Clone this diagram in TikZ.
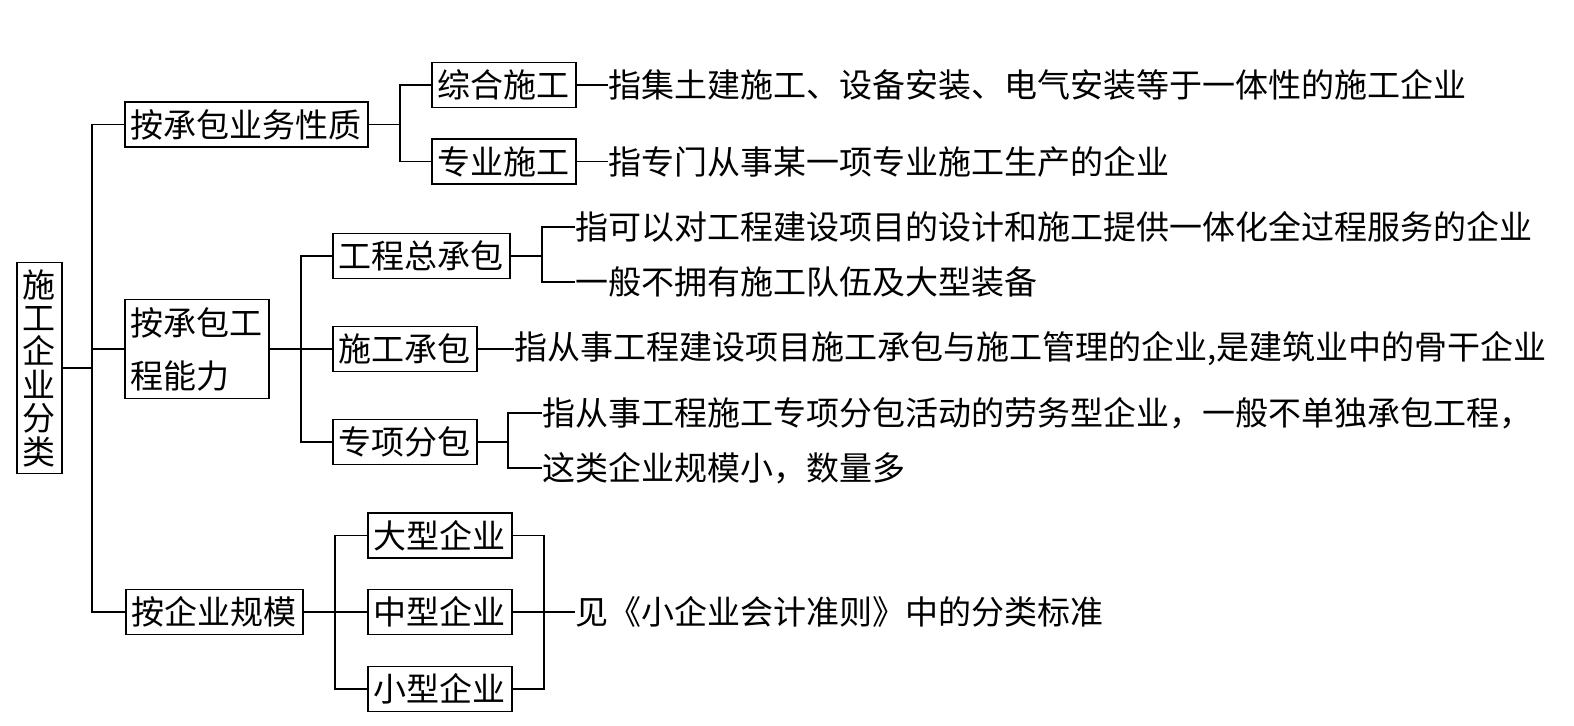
\documentclass[tikz,border=0pt]{standalone}
\usepackage{fontspec}
\setmainfont{Noto Sans CJK SC}
\usetikzlibrary{positioning}

\begin{document}
\begin{tikzpicture}[
    x=0.5pt, y=-0.5pt,
    node distance=15.5pt,
    box/.style={draw, line width=0.9pt, anchor=west, inner xsep=3pt, inner ysep=0pt, minimum height=22.5pt, font=\fontsize{16.5}{16.7}\selectfont},
    note/.style={anchor=west, inner sep=0pt, font=\fontsize{16.5}{16.7}\selectfont},
    link/.style={line width=0.9pt}
]
\useasboundingbox (0,0) rectangle (1574,726);

% root and first level
\node[box, align=center, inner xsep=0pt, minimum width=22.5pt, minimum height=105.5pt] (root) at (16,368) {施\\工\\企\\业\\分\\类};
\node[box] (bynature) at (124,124.5) {按承包业务性质};
\node[box, align=left, minimum height=49.5pt, font=\fontsize{16.5}{26.5}\selectfont] (byability) at (124,349) {按承包工\\程能力};
\node[box] (byscale) at (125,612) {按企业规模};

% second level
\node[box] (general) at (431,85) {综合施工};
\node[box] (special) at (431,161.5) {专业施工};
\node[box] (epc) at (332,256) {工程总承包};
\node[box] (contract) at (332,349) {施工承包};
\node[box] (subcontract) at (332,442) {专项分包};
\node[box] (large) at (367,535.5) {大型企业};
\node[box] (medium) at (367,612) {中型企业};
\node[box] (small) at (367,689) {小型企业};

% descriptions
\node[note, right=of general] (generaltxt) {指集土建施工、设备安装、电气安装等于一体性的施工企业};
\node[note, right=of special] (specialtxt) {指专门从事某一项专业施工生产的企业};
\node[note] (epctxta) at (575,227) {指可以对工程建设项目的设计和施工提供一体化全过程服务的企业};
\node[note] (epctxtb) at (575,282) {一般不拥有施工队伍及大型装备};
\node[note, right=18pt of contract] (contracttxt) {指从事工程建设项目施工承包与施工管理的企业,是建筑业中的骨干企业};
\node[note] (subtxta) at (542,413) {指从事工程施工专项分包活动的劳务型企业，一般不单独承包工程，};
\node[note] (subtxtb) at (542,468) {这类企业规模小，数量多};
\node[note] (scaletxt) at (575,612) {见《小企业会计准则》中的分类标准};

% joints
\coordinate (trunk) at (92,368);
\coordinate (jnature) at (400,124.5);
\coordinate (jability) at (301,349);
\coordinate (jepc) at (542,256);
\coordinate (jsub) at (508,442);
\coordinate (jscale) at (335,612);
\coordinate (jsize) at (544,612);

\draw[link] (root.east) -- (trunk);
\draw[link] (bynature.west) -| (trunk) |- (byscale.west);
\draw[link] (byability.west) -- (byability.west -| trunk);

\draw[link] (bynature.east) -- (jnature);
\draw[link] (general.west) -| (jnature) |- (special.west);
\draw[link] (general.east) -- (generaltxt.west);
\draw[link] (special.east) -- (specialtxt.west);

\draw[link] (byability.east) -- (contract.west);
\draw[link] (epc.west) -| (jability) |- (subcontract.west);
\draw[link] (epc.east) -- (jepc);
\draw[link] (epctxta.west) -| (jepc) |- (epctxtb.west);
\draw[link] (contract.east) -- (contracttxt.west);
\draw[link] (subcontract.east) -- (jsub);
\draw[link] (subtxta.west) -| (jsub) |- (subtxtb.west);

\draw[link] (byscale.east) -- (medium.west);
\draw[link] (large.west) -| (jscale) |- (small.west);
\draw[link] (large.east) -| (jsize) |- (small.east);
\draw[link] (medium.east) -- (scaletxt.west);
\end{tikzpicture}
\end{document}
